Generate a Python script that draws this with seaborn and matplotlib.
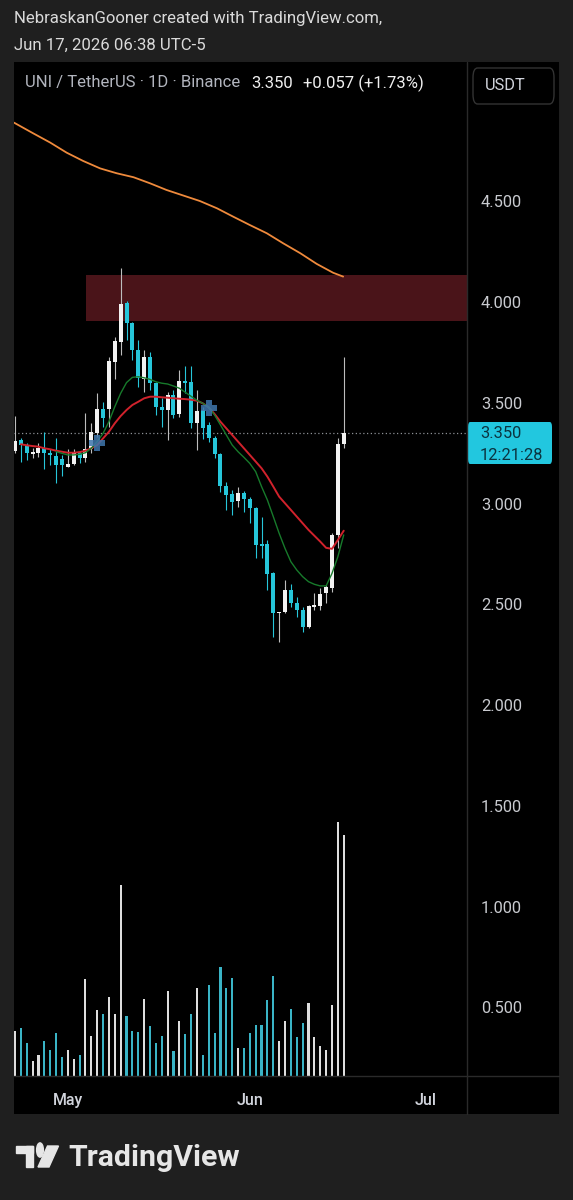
import numpy as np
import pandas as pd
import seaborn as sns
import matplotlib.pyplot as plt
from matplotlib.patches import Rectangle, FancyBboxPatch, Circle, Polygon

# daily candles Apr 22 -> Jun 17 (index 0 = Apr 22)
opens = [3.262, 3.315, 3.290, 3.246, 3.252, 3.277, 3.249, 3.236, 3.219, 3.183,
         3.196, 3.249, 3.227, 3.269, 3.348, 3.469, 3.469, 3.704, 3.803, 3.994,
         3.894, 3.762, 3.616, 3.729, 3.597, 3.480, 3.464, 3.538, 3.444, 3.609,
         3.601, 3.398, 3.465, 3.390, 3.327, 3.246, 3.087, 3.046, 3.014, 3.050,
         3.021, 2.976, 2.797, 2.797, 2.653, 2.455, 2.460, 2.571, 2.508, 2.472,
         2.389, 2.488, 2.492, 2.554, 2.579, 2.844, 3.293]
highs = [3.436, 3.323, 3.302, 3.274, 3.302, 3.353, 3.270, 3.323, 3.241, 3.270,
         3.270, 3.260, 3.448, 3.398, 3.547, 3.505, 3.729, 3.828, 4.167, 4.006,
         3.902, 3.811, 3.762, 3.753, 3.604, 3.522, 3.555, 3.563, 3.663, 3.682,
         3.682, 3.563, 3.480, 3.406, 3.335, 3.252, 3.108, 3.067, 3.080, 3.064,
         3.034, 2.984, 2.935, 2.819, 2.662, 2.463, 2.620, 2.601, 2.538, 2.488,
         2.496, 2.554, 2.579, 2.595, 2.852, 3.323, 3.727]
lows = [3.249, 3.207, 3.216, 3.224, 3.229, 3.171, 3.191, 3.100, 3.136, 3.183,
        3.191, 3.199, 3.207, 3.252, 3.332, 3.381, 3.381, 3.616, 3.737, 3.811,
        3.712, 3.580, 3.555, 3.563, 3.439, 3.381, 3.315, 3.423, 3.431, 3.547,
        3.373, 3.266, 3.320, 3.307, 3.224, 3.059, 2.968, 2.943, 2.984, 2.960,
        2.902, 2.728, 2.728, 2.571, 2.339, 2.314, 2.455, 2.488, 2.439, 2.364,
        2.380, 2.472, 2.472, 2.505, 2.562, 2.778, 3.274]
closes = [3.310, 3.290, 3.249, 3.257, 3.277, 3.249, 3.241, 3.191, 3.191, 3.196,
          3.249, 3.227, 3.269, 3.353, 3.469, 3.426, 3.707, 3.806, 3.989, 3.894,
          3.762, 3.621, 3.729, 3.597, 3.480, 3.464, 3.538, 3.439, 3.609, 3.600,
          3.398, 3.461, 3.375, 3.323, 3.246, 3.087, 3.042, 3.009, 3.050, 3.021,
          2.976, 2.794, 2.790, 2.649, 2.455, 2.460, 2.571, 2.505, 2.472, 2.389,
          2.492, 2.496, 2.549, 2.587, 2.844, 3.293, 3.350]
volumes = [45, 48, 33, 15, 21, 35, 26, 43, 19, 26,
           17, 21, 97, 40, 66, 62, 79, 62, 191, 60,
           45, 44, 77, 50, 33, 40, 85, 25, 55, 42,
           62, 88, 21, 91, 43, 109, 88, 98, 28, 28,
           43, 51, 51, 76, 100, 35, 55, 67, 39, 53,
           73, 39, 30, 26, 71, 254, 241]

ema_fast = [None] * 7 + [
    3.257, 3.249, 3.241, 3.241, 3.244, 3.252, 3.274, 3.307, 3.348, 3.406,
    3.480, 3.547, 3.600, 3.626, 3.629, 3.624, 3.616, 3.604, 3.597, 3.593,
    3.583, 3.572, 3.552, 3.532, 3.512, 3.497, 3.477, 3.439, 3.390, 3.340,
    3.290, 3.257, 3.229, 3.199, 3.158, 3.084, 3.017, 2.935, 2.852, 2.777,
    2.711, 2.670, 2.637, 2.612, 2.599, 2.591, 2.591, 2.653, 2.736, 2.844]
ema_slow = [None] + [
    3.294, 3.289, 3.285, 3.282, 3.274, 3.269, 3.262, 3.257, 3.252, 3.252,
    3.255, 3.262, 3.274, 3.290, 3.323, 3.356, 3.398, 3.434, 3.464, 3.489,
    3.505, 3.522, 3.530, 3.530, 3.527, 3.525, 3.522, 3.520, 3.518, 3.515,
    3.510, 3.497, 3.477, 3.444, 3.406, 3.373, 3.340, 3.307, 3.274, 3.241,
    3.208, 3.175, 3.133, 3.084, 3.034, 3.001, 2.968, 2.935, 2.902, 2.869,
    2.840, 2.811, 2.780, 2.775, 2.819, 2.865]

# long moving average
ma_long_idx = [-0.17, 3.1, 6.0, 8.8, 11.6, 14.5, 17.3, 20.2, 23.0, 25.8, 28.7,
               31.5, 34.4, 37.2, 40.0, 42.9, 45.7, 48.6, 51.4, 54.2, 55.9]
ma_long_val = [4.890, 4.837, 4.791, 4.741, 4.700, 4.663, 4.639, 4.619, 4.589, 4.556, 4.528,
               4.501, 4.465, 4.423, 4.382, 4.341, 4.291, 4.242, 4.189, 4.145, 4.126]

cross_idx = [14, 33]
cross_val = [3.300, 3.474]

zone_start = 12.1
zone_low, zone_high = 3.906, 4.134

price_ticks = [0.5, 1.0, 1.5, 2.0, 2.5, 3.0, 3.5, 4.0, 4.5]
month_pos = [9, 40, 70]
month_labels = ["May", "Jun", "Jul"]

last_price = "3.350"
countdown = "12:21:28"

W, H = 573, 1200
BG = "#1f1f1f"
TEAL = "#26c6da"
WHITE = "#f2f2f2"
GRID = "#2a2a2a"

sns.set_style("dark", {"axes.facecolor": "black", "figure.facecolor": BG})
plt.rcParams['font.family'] = ['Roboto', 'DejaVu Sans']


def fx(x):
    return x / W


def fy(y):
    return 1 - y / H


fig = plt.figure(figsize=(W / 100, H / 100), dpi=100)
fig.patch.set_facecolor(BG)

# black chart panel (under the axes)
fig.patches.append(Rectangle((fx(14), fy(1114)), fx(559) - fx(14), fy(62) - fy(1114),
                             transform=fig.transFigure, facecolor="black", edgecolor="none", zorder=-5))

ax = fig.add_axes([fx(14), fy(1076), fx(467) - fx(14), fy(64) - fy(1076)])
ax.set_facecolor("black")

df = pd.DataFrame({"o": opens, "h": highs, "l": lows, "c": closes, "v": volumes,
                   "fast": ema_fast, "slow": ema_slow})
df["i"] = np.arange(len(df))
df["up"] = df["c"] >= df["o"]

# volume on a twin axis
ax2 = ax.twinx()
ax2.bar(df["i"], df["v"], width=0.36, linewidth=0,
        color=np.where(df["up"], "#dedede", "#3ab4c6"), zorder=1)
ax2.set_ylim(0, 1012)
ax2.set_yticks([])

# supply zone
ax.add_patch(Rectangle((zone_start, zone_low), 100, zone_high - zone_low,
                       facecolor="#4a1419", edgecolor="none", zorder=1))

# candles
wick_col = np.where(df["up"], "#bdbdbd", TEAL)
body_col = np.where(df["up"], WHITE, TEAL)
ax.vlines(df["i"], df["l"], df["h"], colors=wick_col, linewidth=0.8, zorder=3)
body_h = np.maximum((df["c"] - df["o"]).abs(), 0.006)
ax.bar(df["i"], body_h, bottom=np.minimum(df["o"], df["c"]), width=0.68,
       color=body_col, linewidth=0, zorder=4)

# moving averages
sns.lineplot(x=ma_long_idx, y=ma_long_val, ax=ax, color="#ef8a3c", linewidth=1.3, zorder=5)
sns.lineplot(data=df.dropna(subset=["slow"]), x="i", y="slow", ax=ax, color="#d1222c",
             linewidth=1.4, zorder=5, errorbar=None)
sns.lineplot(data=df.dropna(subset=["fast"]), x="i", y="fast", ax=ax, color="#177a2b",
             linewidth=1.0, zorder=5, errorbar=None)
sns.scatterplot(x=cross_idx, y=cross_val, ax=ax, marker="P", s=120, color="#3f77ad",
                alpha=0.85, linewidth=0, zorder=6)

ax.axhline(float(last_price), color="#8d9096", linestyle=(0, (1, 2)), linewidth=0.9, zorder=2)

ax.set_xlim(-0.17, 77.0)
ax.set_ylim(0.159, 5.181)
ax2.set_xlim(-0.17, 77.0)
ax.set_xlabel("")
ax.set_ylabel("")

ax.yaxis.tick_right()
ax.set_yticks(price_ticks)
ax.set_yticklabels([f"{t:.3f}" for t in price_ticks])
ax.tick_params(axis="y", length=0, pad=10, labelsize=11.8, labelcolor="#c9cbd0")
ax.set_xticks(month_pos)
ax.set_xticklabels(month_labels, fontweight="medium")
ax.tick_params(axis="x", length=0, pad=12, labelsize=11.5, labelcolor="#d1d4dc")
ax.grid(False)
ax2.grid(False)
for a in (ax, ax2):
    for s in a.spines.values():
        s.set_visible(False)

# separators
fig.add_artist(plt.Line2D([fx(467), fx(467)], [fy(62), fy(1114)], color=GRID, lw=1,
                          transform=fig.transFigure))
fig.add_artist(plt.Line2D([fx(14), fx(559)], [fy(1076), fy(1076)], color=GRID, lw=1,
                          transform=fig.transFigure))

# last price tag
fig.patches.append(FancyBboxPatch((fx(468), fy(464)), fx(552) - fx(468), fy(422) - fy(464),
                                  boxstyle="round,pad=0,rounding_size=0.004",
                                  transform=fig.transFigure, facecolor="#22c7df", edgecolor="none"))
fig.text(fx(480), fy(434), last_price, color="#0b3440", fontsize=11.8, va="center")
fig.text(fx(480), fy(455), countdown, color="#0b3440", fontsize=11.8, va="center")

# currency button
fig.patches.append(FancyBboxPatch((fx(473), fy(104)), fx(554) - fx(473), fy(68) - fy(104),
                                  boxstyle="round,pad=0,rounding_size=0.008",
                                  transform=fig.transFigure, facecolor="black",
                                  edgecolor="#333333", lw=1))
fig.text(fx(485), fy(86), "USDT", color="#d1d4dc", fontsize=11.8, va="center")

# header texts
fig.text(fx(14), fy(19), "NebraskanGooner created with TradingView.com,", color="#dadada",
         fontsize=12.1, va="center")
fig.text(fx(14), fy(45), "Jun 17, 2026 06:38 UTC-5", color="#dadada", fontsize=12.1, va="center")
fig.text(fx(25), fy(83), "UNI / TetherUS · 1D · Binance", color="#b2b5be", fontsize=12, va="center")
fig.text(fx(251), fy(83), "3.350", color="#f0f0f0", fontsize=12, va="center")
fig.text(fx(303), fy(83), "+0.057 (+1.73%)", color="#f0f0f0", fontsize=12, va="center")

# TradingView logo
logo = "#e6e6e6"
fig.patches.append(Rectangle((fx(16), fy(1153)), fx(33) - fx(16), fy(1146) - fy(1153),
                             transform=fig.transFigure, color=logo))
fig.patches.append(Rectangle((fx(25.5), fy(1167)), fx(33) - fx(25.5), fy(1146) - fy(1167),
                             transform=fig.transFigure, color=logo))
fig.patches.append(Circle((fx(40), fy(1150)), 3.4 / W, transform=fig.transFigure, color=logo))
fig.patches.append(Polygon([(fx(47.5), fy(1146)), (fx(58.5), fy(1146)), (fx(49), fy(1167)),
                            (fx(38), fy(1167))], closed=True, transform=fig.transFigure, color=logo))
fig.text(fx(68), fy(1158), "TradingView", color=logo, fontsize=21.8, fontweight="bold", va="center")

fig.savefig("out.png", dpi=100, facecolor=BG)
